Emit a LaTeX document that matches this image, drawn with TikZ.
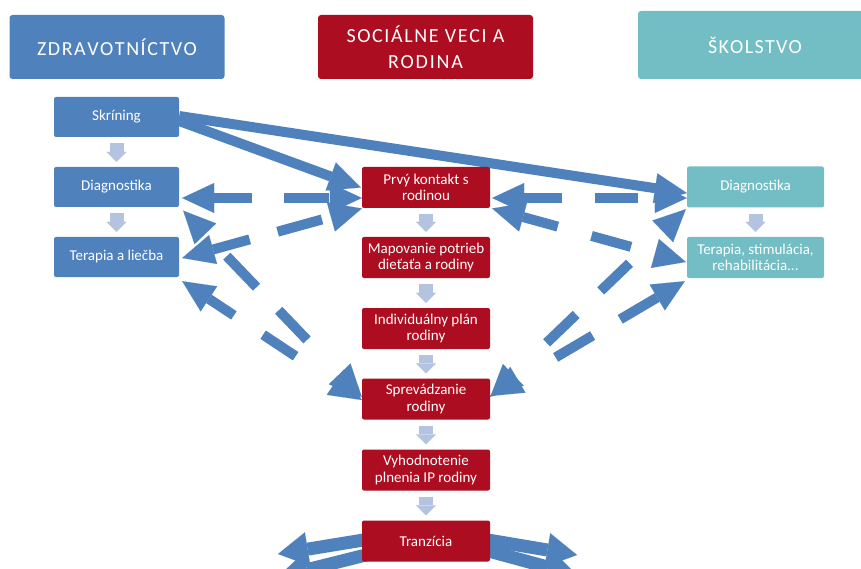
\documentclass[tikz,border=0pt]{standalone}
\usepackage{fontspec}
\setmainfont{Carlito}
\usetikzlibrary{arrows.meta}
\pgfdeclarelayer{bg}
\pgfsetlayers{bg,main}
\definecolor{zblue}{RGB}{79,129,189}
\definecolor{sred}{RGB}{172,13,32}
\definecolor{steal}{RGB}{115,190,196}
\definecolor{lav}{RGB}{180,196,224}
\newcommand\gf{\hfill}
\newcommand\wsp{\hfill\kern3pt\hfill}
\tikzset{
  hdr/.style={rounded corners=3pt, inner sep=0pt, text=white, align=center,
    font=\fontsize{20}{26}\selectfont},
  boxs/.style={rounded corners=2pt, inner sep=0pt, text=white, align=center,
    font=\fontsize{15}{16.5}\selectfont},
  lbox/.style={boxs, fill=zblue, minimum width=125pt, minimum height=40pt},
  cbox/.style={boxs, fill=sred, minimum width=128pt, minimum height=41pt},
  rbox/.style={boxs, fill=steal, minimum width=137pt, minimum height=41pt},
  dbl/.style={draw=zblue, line width=10pt,
    {Triangle[length=32pt,width=30pt,line width=0.01pt]}-{Triangle[length=32pt,width=30pt,line width=0.01pt]}},
  sgl/.style={draw=zblue, line width=10pt, -{Triangle[length=32pt,width=30pt,line width=0.01pt]}},
  trn/.style={draw=zblue, line width=13pt, -{Triangle[length=30pt,width=34pt,line width=0.01pt]}},
  lt/.style={draw=lav, line width=14pt, -{Triangle[length=10pt,width=20pt,line width=0.01pt]},
    shorten <=6pt, shorten >=5pt}
}
\begin{document}
\begin{tikzpicture}[x=1pt,y=-1pt]
\useasboundingbox (0,0) rectangle (861,569);
% headers
\node[hdr, fill=zblue, minimum width=215pt, minimum height=64pt] (hz) at (117,47)
  {\makebox[160pt][s]{Z\gf D\gf R\gf A\gf V\gf O\gf T\gf N\gf Í\gf C\gf T\gf V\gf O}};
\node[hdr, fill=sred, minimum width=215pt, minimum height=64pt] (hs) at (425.5,47)
  {\makebox[158pt][s]{S\gf O\gf C\gf I\gf Á\gf L\gf N\gf E\wsp V\gf E\gf C\gf I\wsp A}\\
   \makebox[75pt][s]{R\gf O\gf D\gf I\gf N\gf A}};
\node[hdr, fill=steal, minimum width=234pt, minimum height=68pt] (hk) at (755,45)
  {\makebox[94pt][s]{Š\gf K\gf O\gf L\gf S\gf T\gf V\gf O}};
% left column
\node[lbox] (skr) at (116.5,117) {Skríning};
\node[lbox] (diagL) at (116.5,187) {Diagnostika};
\node[lbox] (terL) at (116.5,257) {Terapia a liečba};
% center column
\node[cbox] (prvy) at (426,187.5) {Prvý kontakt s\\rodinou};
\node[cbox] (map) at (426,257.5) {Mapovanie potrieb\\dieťaťa a rodiny};
\node[cbox] (ind) at (426,328.5) {Individuálny plán\\rodiny};
\node[cbox] (sprev) at (426,399) {Sprevádzanie\\rodiny};
\node[cbox] (vyh) at (426,470) {Vyhodnotenie\\plnenia IP rodiny};
\node[cbox] (tran) at (426,541) {Tranzícia};
% right column
\node[rbox] (diagR) at (755.5,187) {Diagnostika};
\node[rbox] (terR) at (755.5,257.5) {Terapia, stimulácia,\\rehabilitácia...};
% small arrows
\draw[lt] (skr) -- (diagL);
\draw[lt] (diagL) -- (terL);
\draw[lt] (prvy) -- (map);
\draw[lt] (map) -- (ind);
\draw[lt] (ind) -- (sprev);
\draw[lt] (sprev) -- (vyh);
\draw[lt] (vyh) -- (tran);
\draw[lt] (diagR) -- (terR);
% free ends of transition arrows
\coordinate (tl1) at (278,554);
\coordinate (tl2) at (278,577);
\coordinate (tr1) at (577,555);
\coordinate (tr2) at (577,575);
\begin{pgfonlayer}{bg}
\draw[sgl] ([yshift=-4pt]skr.east) -- ([xshift=-1pt]prvy.west);
\draw[sgl] ([yshift=1pt]skr.east) -- ([yshift=-6pt]diagR.west);
\draw[dbl, dash pattern=on 38pt off 32pt on 45pt off 100pt] ([xshift=3pt,yshift=-11pt]diagL.east) -- ([yshift=-10.5pt]prvy.west);
\draw[dbl, dash pattern=on 38pt off 29pt on 46pt off 100pt] ([xshift=3pt,yshift=-1pt]terL.east) -- ([yshift=-21pt]prvy.west);
\draw[dbl, dash pattern=on 43pt off 32pt on 41pt off 100pt, dash phase=185pt] ([xshift=4pt,yshift=-3.5pt]diagL.south east) -- ([yshift=2pt]sprev.west);
\draw[dbl, dash pattern=on 30pt off 35pt on 39pt off 100pt] ([xshift=3pt,yshift=-4pt]terL.south east) -- ([yshift=-1pt]sprev.west);
\draw[dbl, dash pattern=on 38pt off 33pt on 43pt off 100pt] ([xshift=2pt,yshift=-10.5pt]prvy.east) -- ([yshift=-11pt]diagR.west);
\draw[dbl, dash pattern=on 36pt off 35pt on 41pt off 100pt] ([xshift=2pt,yshift=-21pt]prvy.east) -- ([xshift=-1pt,yshift=-4.5pt]terR.west);
\draw[dbl, dash pattern=on 40pt off 34pt on 41pt off 100pt, dash phase=169pt] ([xshift=-1pt,yshift=-1.5pt]diagR.south west) -- ([yshift=2pt]sprev.east);
\draw[dbl, dash pattern=on 43pt off 32pt on 43pt off 100pt] ([xshift=-2pt,yshift=-3pt]terR.south west) -- ([yshift=3pt]sprev.east);
\draw[trn] ([xshift=20pt,yshift=4pt]tran.west) -- (tl1);
\draw[trn] ([xshift=20pt,yshift=-10pt]tran.west) -- (tl2);
\draw[trn] ([xshift=-20pt,yshift=4pt]tran.east) -- (tr1);
\draw[trn] ([xshift=-20pt,yshift=-5pt]tran.east) -- (tr2);
\end{pgfonlayer}
\end{tikzpicture}
\end{document}
